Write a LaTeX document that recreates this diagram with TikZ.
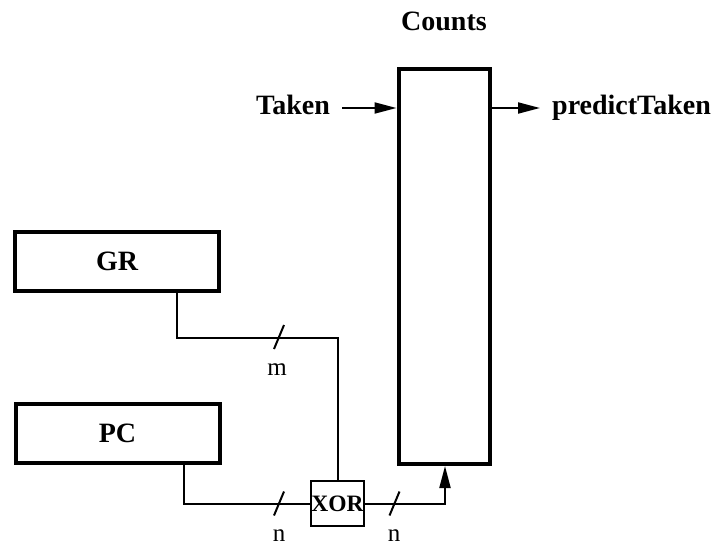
\documentclass[tikz,border=0pt]{standalone}
\usepackage{fontspec}
\setmainfont{Liberation Serif}
\usetikzlibrary{arrows.meta}

\tikzset{
  reg/.style={draw, line width=4pt, minimum width=204pt, minimum height=59pt,
    inner sep=0pt, font=\fontsize{28}{30}\selectfont\bfseries},
  wire/.style={line width=2pt},
  arrow/.style={wire, -{Triangle[length=22pt,width=11pt]}},
  word/.style={inner sep=12pt, text height=19pt, text depth=6pt,
    font=\fontsize{28}{30}\selectfont\bfseries},
  buslabel/.style={inner sep=0pt, anchor=base, font=\fontsize{25}{27}\selectfont},
}

\begin{document}
\begin{tikzpicture}[x=1pt, y=-1pt]
  \useasboundingbox (0,0) rectangle (720,546);

  \node (counts) [reg, minimum width=91pt, minimum height=395pt] at (444,266.5) {};
  \node (gr) [reg] at (117,261.5) {GR};
  \node (pc) [reg] at (117.5,433.5) {PC};
  \node (xor) [draw, wire, minimum width=53pt, minimum height=45pt, inner sep=0pt,
    font=\fontsize{23.5}{25}\selectfont\bfseries] at (337.5,503.5) {XOR};

  \node (title)   [word, inner sep=0pt] at (444,24) {Counts};
  \node (taken)   [word, anchor=east] at (342,108) {Taken};
  \node (predict) [word, anchor=west] at (540,108) {predictTaken};

  \draw [arrow] (taken) -- (taken -| counts.west);
  \draw [arrow] (counts.east |- predict.west) -- (predict.west);

  \draw [wire] ([xshift=60pt]gr.south) -- ++(0,45) -| (xor.north);
  \draw [wire] ([xshift=66.5pt]pc.south) |- (xor.west);
  \draw [arrow] (xor.east) -| ([xshift=1pt]counts.south);

  \coordinate (mbus)  at (279,337);
  \coordinate (nbus1) at (279,503.5);
  \coordinate (nbus2) at (394.5,503.5);
  \draw [wire] (mbus)  ++(-5,12) -- ++(10,-24);
  \draw [wire] (nbus1) ++(-5,12) -- ++(10,-24);
  \draw [wire] (nbus2) ++(-5,12) -- ++(10,-24);

  \node (m)  [buslabel] at (277,375) {m};
  \node (n1) [buslabel] at (279,541) {n};
  \node (n2) [buslabel] at (394,541) {n};
\end{tikzpicture}
\end{document}
